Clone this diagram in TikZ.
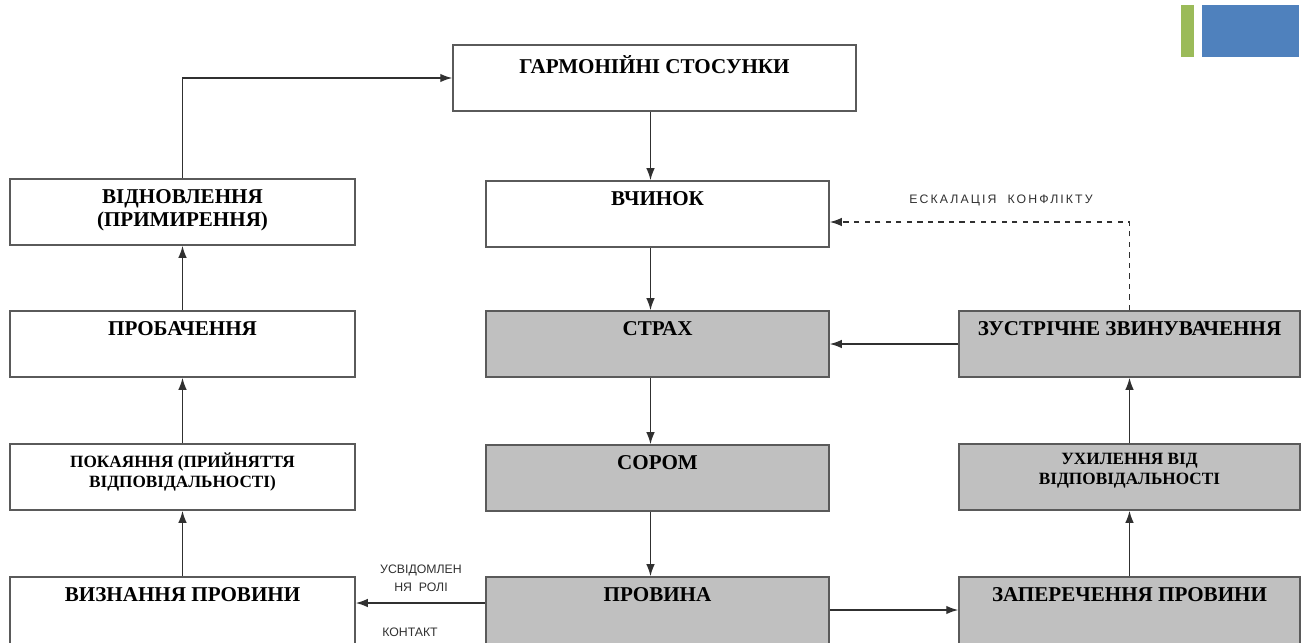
\documentclass[tikz,border=0pt]{standalone}
\usepackage{fontspec}
\setmainfont{Liberation Serif}
\setsansfont{Liberation Sans}
\usepackage{tikz}
\usetikzlibrary{arrows.meta,positioning}
\definecolor{boxgray}{HTML}{C0C0C0}
\definecolor{edgegray}{HTML}{5A5A5A}
\definecolor{linegray}{HTML}{303030}
\definecolor{barGreen}{HTML}{9BBB59}
\definecolor{barBlue}{HTML}{4F81BD}
\tikzset{
  box/.style={draw=edgegray, line width=0.9pt, minimum height=1.32cm, inner sep=0pt},
  wbox/.style={box, fill=white},
  gbox/.style={box, fill=boxgray},
  intext/.style={anchor=north, yshift=-0.22cm, inner sep=0pt, align=center,
    font=\bfseries\fontsize{12}{13}\selectfont},
  smalltext/.style={intext, yshift=0.03cm, font=\bfseries\fontsize{9.8}{11.3}\selectfont},
  conn/.style={draw=linegray, line width=0.8pt, -{Latex[length=2.4mm,width=1.7mm]}},
  note/.style={font=\sffamily\fontsize{7}{10.5}\selectfont, text=linegray, align=center, inner sep=0pt}
}
\begin{document}
\begin{tikzpicture}[x=0.02cm, y=-0.02cm]
\useasboundingbox (0,0) rectangle (1311,642);
\fill[barGreen] (1181,5) rectangle (1194,57);
\fill[barBlue] (1202,5) rectangle (1299,57);

% centre column
\node[wbox, minimum width=8.06cm, label={[intext]north:ГАРМОНІЙНІ СТОСУНКИ}] (garm) at (654.5,78) {};
\node[wbox, minimum width=6.86cm, label={[intext]north:ВЧИНОК}] (vchynok) at (657.5,214) {};
\node[gbox, minimum width=6.86cm, label={[intext]north:СТРАХ}] (strakh) at (657.5,344) {};
\node[gbox, minimum width=6.86cm, label={[intext]north:СОРОМ}] (sorom) at (657.5,478) {};
\node[gbox, minimum width=6.86cm, minimum height=1.4cm, label={[intext]north:ПРОВИНА}] (provyna) at (657.5,612) {};

% left column
\node[wbox, minimum width=6.9cm, label={[intext]north:ВІДНОВЛЕННЯ\\(ПРИМИРЕННЯ)}] (vidnov) at (182.5,212) {};
\node[wbox, minimum width=6.9cm, label={[intext]north:ПРОБАЧЕННЯ}] (probach) at (182.5,344) {};
\node[wbox, minimum width=6.9cm, label={[smalltext]north:ПОКАЯННЯ (ПРИЙНЯТТЯ\\ВІДПОВІДАЛЬНОСТІ)}] (pokay) at (182.5,477) {};
\node[wbox, minimum width=6.9cm, minimum height=1.4cm, label={[intext]north:ВИЗНАННЯ ПРОВИНИ}] (vyzn) at (182.5,612) {};

% right column
\node[gbox, minimum width=6.82cm, label={[intext]north:ЗУСТРІЧНЕ ЗВИНУВАЧЕННЯ}] (zustr) at (1129.5,344) {};
\node[gbox, minimum width=6.82cm, label={[smalltext]north:УХИЛЕННЯ ВІД\\ВІДПОВІДАЛЬНОСТІ}] (ukhyl) at (1129.5,477) {};
\node[gbox, minimum width=6.82cm, minimum height=1.4cm, label={[intext]north:ЗАПЕРЕЧЕННЯ ПРОВИНИ}] (zaper) at (1129.5,612) {};

\node[note] (escal) at (1001,200) {\addfontfeature{LetterSpace=17}ЕСКАЛАЦІЯ\ \ КОНФЛІКТУ};
\node[note] (usvid) at (421,578) {УСВІДОМЛЕН\\НЯ\ \ РОЛІ};
\node[note] (kontakt) at (410,632) {КОНТАКТ};

\draw[conn] ([xshift=-0.14cm]garm.south -| vchynok) -- ([xshift=-0.14cm]vchynok.north);
\draw[conn] ([xshift=-0.14cm]vchynok.south) -- ([xshift=-0.14cm]strakh.north);
\draw[conn] ([xshift=-0.14cm]strakh.south) -- ([xshift=-0.14cm]sorom.north);
\draw[conn] ([xshift=-0.14cm]sorom.south) -- ([xshift=-0.14cm]provyna.north);
\draw[conn] ([yshift=0.18cm]provyna.west) -- ([yshift=0.18cm]provyna.west -| vyzn.east);
\draw[conn] ([yshift=0.04cm]provyna.east) -- ([yshift=0.04cm]provyna.east -| zaper.west);
\draw[conn] (vyzn) -- (pokay);
\draw[conn] (pokay) -- (probach);
\draw[conn] (probach) -- (vidnov);
\draw[conn] (vidnov.north) |- (garm.west);
\draw[conn] (zaper) -- (ukhyl);
\draw[conn] (ukhyl) -- (zustr);
\draw[conn] (zustr) -- (strakh);
\draw[conn, dashed] (zustr.north) |- ([yshift=-0.16cm]vchynok.east);
\end{tikzpicture}
\end{document}
